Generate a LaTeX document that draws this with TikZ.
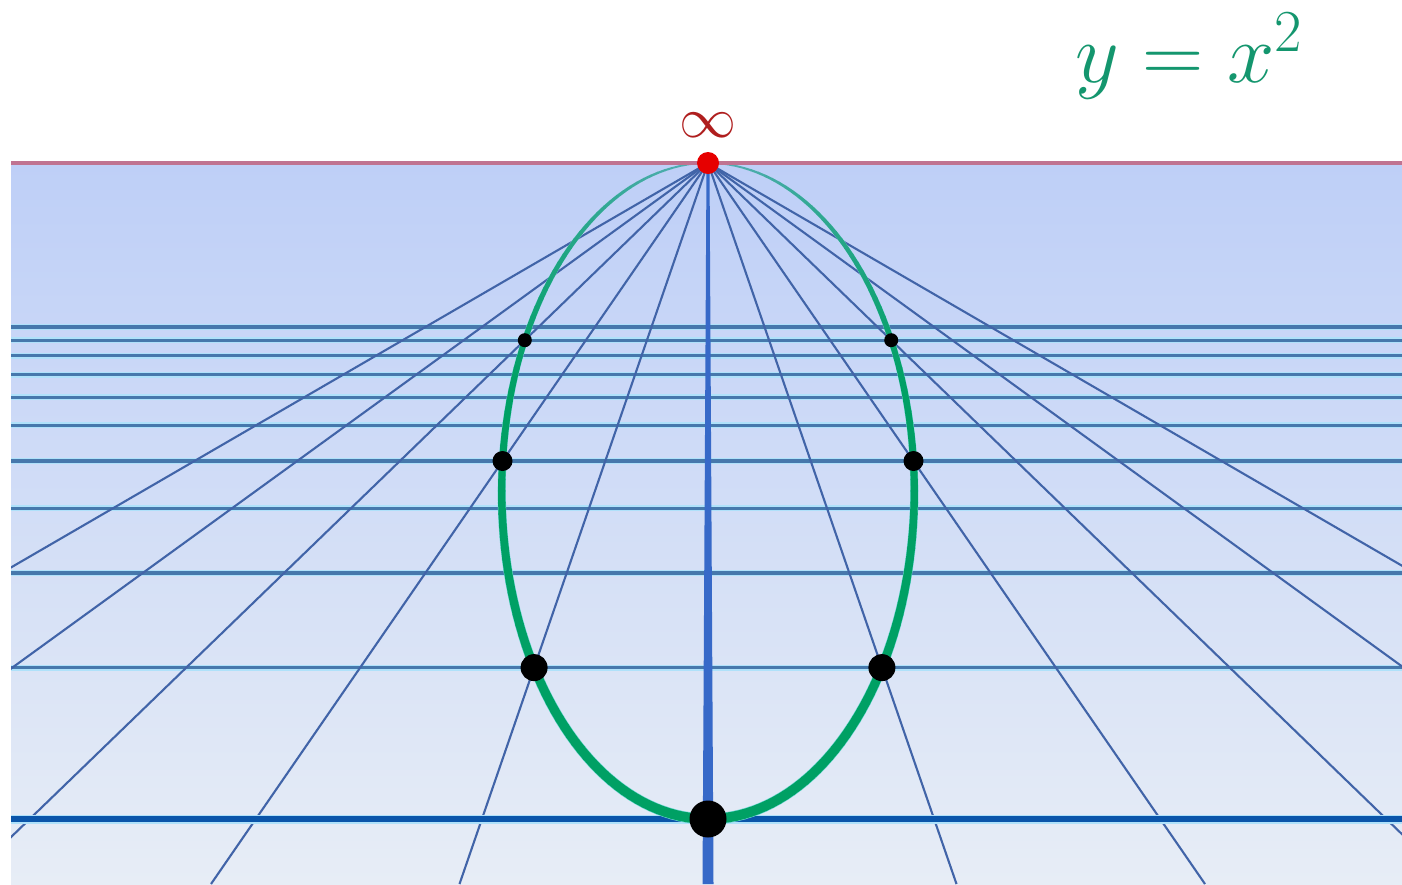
\RequirePackage{fix-cm}
\documentclass[tikz,border=0pt]{standalone}
\usepackage{tikz}
\definecolor{skytop}{RGB}{190,207,247}
\definecolor{skymid}{RGB}{212,224,248}
\definecolor{skybot}{RGB}{231,237,246}
\definecolor{horizoncol}{RGB}{192,115,145}
\definecolor{gridcore}{RGB}{70,120,172}
\definecolor{gridhalo}{RGB}{175,225,250}
\definecolor{raycol}{RGB}{65,100,168}
\definecolor{axiscol}{RGB}{55,105,200}
\definecolor{basecol}{RGB}{10,85,170}
\definecolor{curvecol}{RGB}{0,160,100}
\definecolor{curvetop}{RGB}{90,175,185}
\definecolor{curvehalo}{RGB}{110,215,210}
\definecolor{eqcol}{RGB}{20,150,110}
\definecolor{infcol}{RGB}{175,30,30}
\definecolor{vpcol}{RGB}{230,0,0}
\begin{document}
\begin{tikzpicture}[x=1pt,y=-1pt,
  hline/.style={gridcore,line width=3.2pt},
  hhalo/.style={gridhalo,line width=6pt},
  ray/.style={raycol,line width=2.1pt},
  dot/.style={circle,fill=black,inner sep=0pt}]
\useasboundingbox (0,0) rectangle (1402,884);
\fill[white] (0,0) rectangle (1402,884);
\begin{scope}
\clip (11,163) rectangle (1402,884);
\shade[top color=skytop, middle color=skymid, bottom color=skybot] (11,163) rectangle (1402,884);
% horizontal grid lines y = 1..10
\foreach \k in {1,...,10}{
  \pgfmathsetmacro\yy{163+2185/(3.33+\k)}
  \draw[hhalo] (11,\yy) -- (1402,\yy);
  \draw[hline] (11,\yy) -- (1402,\yy);
}
% rays x = n
\foreach \n in {-5,-4,-3,-2,-1,1,2,3,4,5}{
  \draw[ray] (708,163) -- ({708+248.5*\n},884);
}
% base line y = 0
\draw[gridhalo, line width=9pt] (11,819) -- (1402,819);
\draw[basecol, line width=5.5pt] (11,819) -- (1402,819);
% central axis x = 0
\fill[axiscol] (706.5,163) -- (709.5,163) -- (713.5,884) -- (702.5,884) -- cycle;
% curve halo
\foreach \t in {-180,-178,...,178}{
  \pgfmathsetmacro\s{sqrt((1+cos(\t+1))/2)}
  \pgfmathsetmacro\wh{1.0+10*\s}
  \pgfmathsetmacro\ph{min(100,140*\s)}
  \draw[curvehalo!\ph!skytop, line width=\wh pt, line cap=round]
    ({708+206.3*sin(\t)},{491+328*cos(\t)}) -- ({708+206.3*sin(\t+2)},{491+328*cos(\t+2)});
}
% curve
\foreach \t in {-180,-178,...,178}{
  \pgfmathsetmacro\s{sqrt((1+cos(\t+1))/2)}
  \pgfmathsetmacro\w{1.2+8.6*\s}
  \pgfmathsetmacro\pc{min(100,170*\s)}
  \draw[curvecol!\pc!curvetop, line width=\w pt, line cap=round]
    ({708+206.3*sin(\t)},{491+328*cos(\t)}) -- ({708+206.3*sin(\t+2)},{491+328*cos(\t+2)});
}
\end{scope}
% horizon
\draw[horizoncol, line width=3.5pt] (11,163) -- (1402,163);
% points on the parabola
\node[dot, minimum size=37pt] (p0) at (708,819) {};
\node[dot, minimum size=27pt] (pl1) at (534.1,667.6) {};
\node[dot, minimum size=27pt] (pr1) at (881.9,667.6) {};
\node[dot, minimum size=20pt] (pl2) at (502.5,461) {};
\node[dot, minimum size=20pt] (pr2) at (913.5,461) {};
\node[dot, minimum size=14pt] (pl3) at (524.8,340.2) {};
\node[dot, minimum size=14pt] (pr3) at (891.2,340.2) {};
% vanishing point
\node[circle, fill=vpcol, inner sep=0pt, minimum size=22pt] (vp) at (708,163) {};
\node[text=infcol, inner sep=0pt, font=\fontsize{57}{60}\selectfont] (inf) at (708,125) {$\infty$};
% equation
\node[text=eqcol, inner sep=0pt, anchor=base west, font=\fontsize{85}{90}\selectfont] (eq) at (1075,82) {$y = x^2$};
\end{tikzpicture}
\end{document}
